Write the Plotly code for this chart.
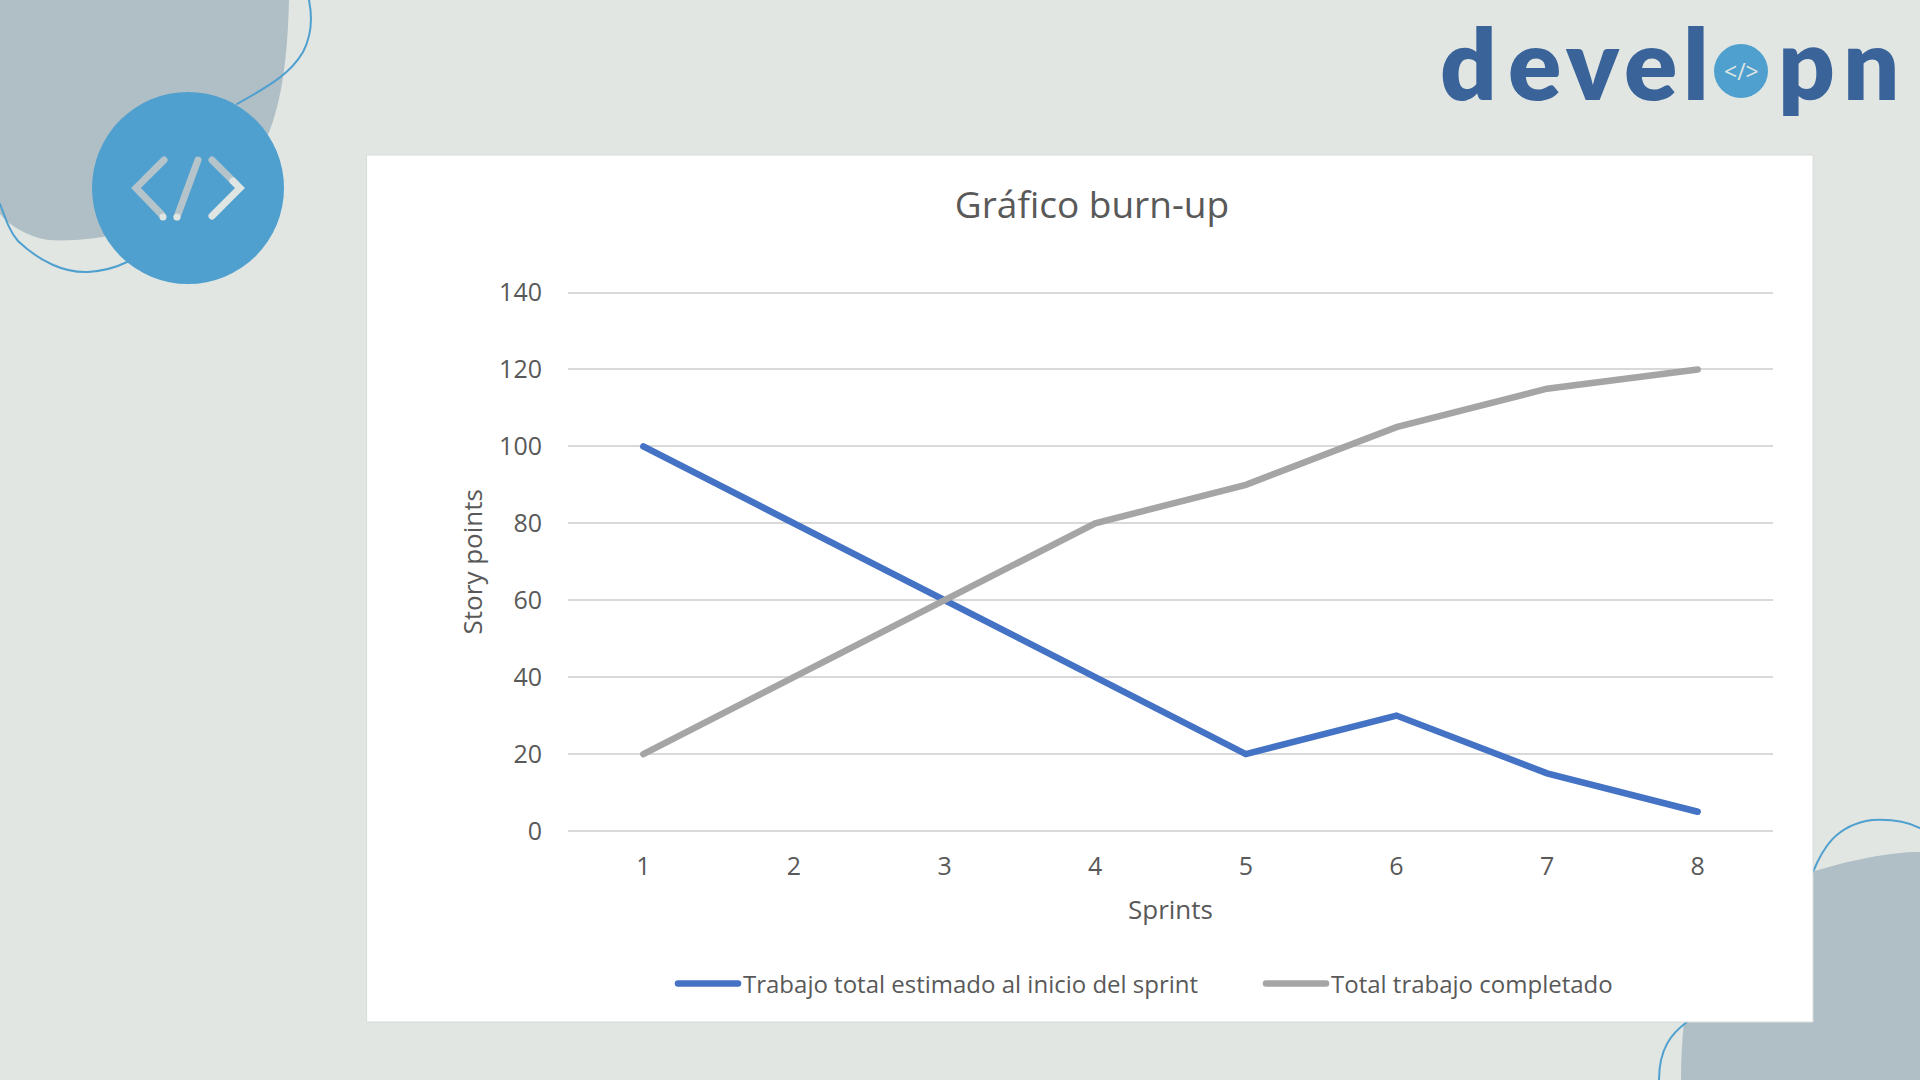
import plotly.graph_objects as go

W, H = 1920, 1080

# chart data
sprints = [1, 2, 3, 4, 5, 6, 7, 8]
trabajo_estimado = [100, 80, 60, 40, 20, 30, 15, 5]
trabajo_completado = [20, 40, 60, 80, 90, 105, 115, 120]
y_ticks = [0, 20, 40, 60, 80, 100, 120, 140]

nombre_estimado = "Trabajo total estimado al inicio del sprint"
nombre_completado = "Total trabajo completado"

TEXT = "#595959"
BLUE = "#4472c4"
GRAY = "#a5a5a5"
BG = "#e1e6e3"
BLOB = "#b0bfc6"
ACCENT = "#4fa0cf"
LOGO = "#3a6499"
FONT = "Open Sans"


def fx(x):
    return x / W


def fy(y):
    return 1 - y / H


def path(cmds):
    # cmds in screen pixels, converted to paper coordinates
    out = []
    for c in cmds:
        if isinstance(c, str):
            out.append(c)
        else:
            out.append(f"{fx(c[0]):.5f},{fy(c[1]):.5f}")
    return " ".join(out)


def blob(cmds, color):
    return dict(type="path", xref="paper", yref="paper", path=path(cmds), fillcolor=color,
                line=dict(width=0), layer="below")


def curve(cmds, color=ACCENT, width=2):
    return dict(type="path", xref="paper", yref="paper", path=path(cmds),
                line=dict(color=color, width=width), layer="below")


def circle(cx, cy, r, color):
    return dict(type="circle", xref="paper", yref="paper", x0=fx(cx - r), x1=fx(cx + r),
                y0=fy(cy + r), y1=fy(cy - r), fillcolor=color, line=dict(width=0), layer="below")


def stroke(points, color, width=7):
    cmds = ["M", points[0]]
    for p in points[1:]:
        cmds += ["L", p]
    return [curve(cmds, color, width)]


shapes = []
# fondo arriba a la izquierda
shapes.append(blob(["M", (0, 0), "L", (289, 0), "C", (288, 40), (285, 90), (270, 130),
                    "C", (255, 165), (235, 190), (200, 207), "C", (150, 232), (85, 243), (48, 240),
                    "C", (28, 237), (10, 226), (0, 214), "Z"], BLOB))
shapes.append(curve(["M", (309, 0), "C", (312, 15), (312, 35), (303, 52), "C", (290, 75), (265, 88), (237, 104)]))
shapes.append(curve(["M", (0, 204), "C", (6, 220), (10, 232), (18, 241), "C", (40, 262), (65, 273), (88, 272),
                     "C", (102, 271), (115, 268), (127, 262)]))
shapes.append(circle(188, 188, 96, ACCENT))

# icono </>
ICON_DARK = "#b5c3ca"
ICON_LIGHT = "#dfe5e3"
shapes += stroke([(164, 160), (136, 188), (162, 215)], ICON_DARK)
shapes.append(circle(163, 217, 3.5, ICON_LIGHT))
shapes += stroke([(198, 160), (177, 217)], ICON_DARK)
shapes.append(circle(177, 217, 3.5, ICON_LIGHT))
shapes += stroke([(212, 160), (236, 184)], ICON_DARK)
shapes += stroke([(233, 181), (240, 188), (212, 216)], ICON_LIGHT)

# fondo abajo a la derecha
shapes.append(blob(["M", (1812, 872), "C", (1850, 860), (1890, 852), (1920, 852), "L", (1920, 1080),
                    "L", (1681, 1080), "C", (1681, 1060), (1682, 1040), (1684, 1022), "L", (1684, 900), "Z"], BLOB))
shapes.append(curve(["M", (1813, 872), "C", (1822, 850), (1835, 825), (1872, 820), "C", (1890, 819), (1908, 822), (1920, 828)]))
shapes.append(curve(["M", (1687, 1022), "C", (1672, 1033), (1659, 1048), (1659, 1080)]))

# tarjeta blanca
shapes.append(dict(type="rect", xref="paper", yref="paper", x0=fx(367), x1=fx(1813), y0=fy(1022), y1=fy(155),
                   fillcolor="white", line=dict(color="#d8dcda", width=1), layer="below"))

# logo
shapes.append(circle(1741, 71, 27, ACCENT))
logo_letras = ["d", "e", "v", "e", "l", "p", "n"]
logo_x = [1468, 1534, 1592, 1650, 1696, 1806, 1871]
annotations = [dict(text=c, x=fx(x), y=fy(98), xref="paper", yref="paper", xanchor="center", yanchor="bottom",
                    showarrow=False, yshift=-25, font=dict(family="Lato", size=99, color=LOGO, weight=800))
               for c, x in zip(logo_letras, logo_x)]
annotations.append(dict(text="&lt;/&gt;", x=fx(1741), y=fy(71), xref="paper", yref="paper", showarrow=False,
                        xanchor="center", yanchor="middle", font=dict(family=FONT, size=23, color=ICON_LIGHT)))

fig = go.Figure()
fig.add_trace(go.Scatter(x=sprints, y=trabajo_estimado, mode="lines", name=nombre_estimado,
                         line=dict(color=BLUE, width=6.5)))
fig.add_trace(go.Scatter(x=sprints, y=trabajo_completado, mode="lines", name=nombre_completado,
                         line=dict(color=GRAY, width=6.5)))

fig.update_layout(
    width=W, height=H,
    margin=dict(l=0, r=0, t=0, b=0, autoexpand=False),
    paper_bgcolor=BG,
    plot_bgcolor="rgba(0,0,0,0)",
    font=dict(family=FONT, color=TEXT, size=25),
    title=dict(text="Gráfico burn-up", x=fx(1092), xanchor="center", y=fy(205), yanchor="middle",
               font=dict(family=FONT, size=37, color=TEXT)),
    shapes=shapes,
    annotations=annotations,
    legend=dict(orientation="h", x=fx(673), xanchor="left", y=fy(984), yanchor="middle",
                itemwidth=60, entrywidth=513, entrywidthmode="pixels",
                font=dict(family=FONT, size=24, color=TEXT), bgcolor="rgba(0,0,0,0)"),
)
fig.update_xaxes(domain=[fx(568), fx(1773)], range=[0.5, 8.5], tickvals=sprints, showgrid=False,
                 zeroline=False, showline=False, ticks="", ticklabelstandoff=16,
                 tickfont=dict(size=25, color=TEXT),
                 title=dict(text="Sprints", standoff=19, font=dict(size=26, color=TEXT)))
# range runs a bit past 0 and 140 (domain widened to match) so those gridlines stay drawn
fig.update_yaxes(domain=[fy(832.9), fy(290.6)], range=[-0.5, 140.5], tickvals=y_ticks, showgrid=True,
                 gridcolor="#d9d9d9", gridwidth=1.5, zeroline=False, showline=False, ticks="",
                 ticklabelstandoff=25, tickfont=dict(size=25, color=TEXT),
                 title=dict(text="Story points", standoff=9, font=dict(size=26, color=TEXT)))

# body margin off, round line ends like the original
round_ends = """
document.body.style.margin = '0';
document.querySelectorAll('.js-line, .legendlines path, .shapelayer path').forEach(function (p) {
    p.style.strokeLinecap = 'round';
});
"""
fig.write_html("out.html", config=dict(displayModeBar=False), post_script=round_ends)
